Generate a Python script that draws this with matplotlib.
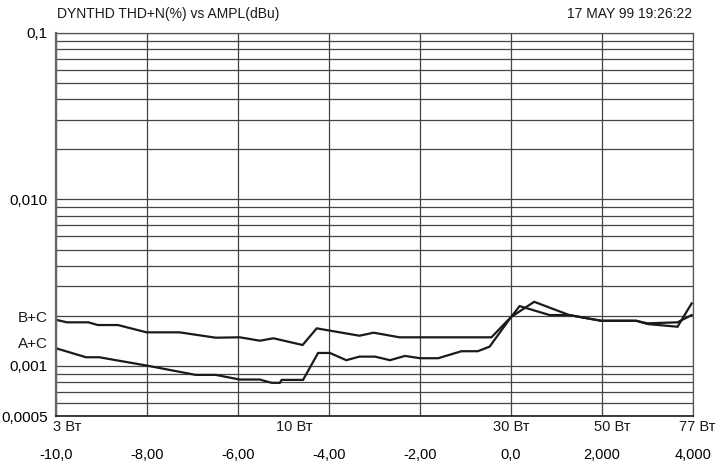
import matplotlib
matplotlib.use("Agg")
import matplotlib.pyplot as plt
import numpy as np

# x in dBu, y in THD+N (%)
bc_x = [-10.0, -9.76, -9.29, -9.08, -8.64, -8.01, -7.29, -6.49, -5.96, -5.52,
        -5.22, -4.58, -4.27, -3.97, -3.33, -3.02, -2.45, -0.43, 0.0, 0.51,
        1.28, 1.98, 2.75, 3.00, 3.66, 3.97]
bc_y = [1.893e-3, 1.827e-3, 1.827e-3, 1.760e-3, 1.760e-3, 1.591e-3, 1.591e-3,
        1.477e-3, 1.485e-3, 1.417e-3, 1.465e-3, 1.335e-3, 1.681e-3, 1.627e-3,
        1.518e-3, 1.583e-3, 1.485e-3, 1.485e-3, 1.965e-3, 2.427e-3, 2.020e-3,
        1.867e-3, 1.867e-3, 1.784e-3, 1.719e-3, 2.373e-3]

ac_x = [-10.0, -9.34, -9.05, -8.01, -6.93, -6.49, -5.96, -5.52, -5.26, -5.08,
        -5.04, -4.57, -4.24, -3.98, -3.62, -3.33, -2.99, -2.66, -2.33, -2.00,
        -1.60, -1.09, -0.73, -0.47, 0.0, 0.19, 0.85, 1.28, 1.98, 2.75, 3.00,
        3.66, 3.97]
ac_y = [1.276e-3, 1.127e-3, 1.127e-3, 1.005e-3, 8.83e-4, 8.83e-4, 8.28e-4,
        8.28e-4, 7.91e-4, 7.91e-4, 8.24e-4, 8.24e-4, 1.196e-3, 1.196e-3,
        1.082e-3, 1.137e-3, 1.137e-3, 1.082e-3, 1.148e-3, 1.112e-3, 1.112e-3,
        1.225e-3, 1.225e-3, 1.305e-3, 1.965e-3, 2.287e-3, 2.020e-3, 2.020e-3,
        1.867e-3, 1.867e-3, 1.802e-3, 1.827e-3, 2.020e-3]

x_ticks = [-10, -8, -6, -4, -2, 0, 2, 4]
x_tick_labels = ["-10,0", "-8,00", "-6,00", "-4,00", "-2,00", "0,0", "2,000", "4,000"]
y_ticks = [0.1, 0.01, 0.001, 0.0005]
y_tick_labels = ["0,1", "0,010", "0,001", "0,0005"]

# output power marks, 30 W = 0 dBu
watts = [3, 10, 30, 50, 77]
watt_labels = ["3 Вт", "10 Вт", "30 Вт", "50 Вт", "77 Вт"]

title = "DYNTHD THD+N(%) vs AMPL(dBu)"
stamp = "17 MAY 99 19:26:22"

FONT = ["Liberation Sans", "DejaVu Sans"]
INK = "#1a1a1a"

fig = plt.figure(figsize=(7.19, 4.63), dpi=100)
ax = fig.add_axes([56 / 719, 47 / 463, 637 / 719, 383 / 463])

ax.set_yscale("log")
ax.set_xlim(-10, 4)
ax.set_ylim(0.0005, 0.1)

ax.plot(bc_x, bc_y, color=INK, lw=1.6, solid_joinstyle="miter")
ax.plot(ac_x, ac_y, color=INK, lw=1.6, solid_joinstyle="miter")

ax.set_xticks(x_ticks)
ax.set_xticklabels(x_tick_labels, family=FONT, fontsize=10.5)
ax.set_yticks(y_ticks)
ax.set_yticklabels(y_tick_labels, family=FONT, fontsize=11)
ax.yaxis.set_minor_formatter(matplotlib.ticker.NullFormatter())
ax.tick_params(axis="both", which="both", length=0)
ax.tick_params(axis="x", pad=23)
ax.tick_params(axis="y", pad=6)

ax.grid(True, axis="x", which="major", color="#444444", lw=0.9)
ax.grid(True, axis="y", which="both", color="#444444", lw=0.9)

for side in ["top", "right"]:
    ax.spines[side].set_color("#555555")
    ax.spines[side].set_linewidth(0.9)
ax.spines["left"].set_color("#666666")
ax.spines["left"].set_linewidth(1.6)
ax.spines["bottom"].set_color(INK)
ax.spines["bottom"].set_linewidth(1.2)

for i, (w, lab) in enumerate(zip(watts, watt_labels)):
    xw = 10 * np.log10(w / 30)
    ax.annotate(lab, xy=(xw, 0), xycoords=("data", "axes fraction"),
                xytext=(-2 if i == 0 else 0, -3), textcoords="offset points",
                ha="left" if i == 0 else "center", va="top",
                family=FONT, fontsize=10.5, color=INK, annotation_clip=False)

ax.annotate("B+C", xy=(0, bc_y[0]), xycoords=("axes fraction", "data"),
            xytext=(-6, 1), textcoords="offset points", ha="right", va="center",
            family=FONT, fontsize=11, color=INK, annotation_clip=False)
ax.annotate("A+C", xy=(0, ac_y[0]), xycoords=("axes fraction", "data"),
            xytext=(-6, 3), textcoords="offset points", ha="right", va="center",
            family=FONT, fontsize=11, color=INK, annotation_clip=False)

fig.text(57 / 719, 1 - 14 / 463, title, family=FONT, fontsize=10,
         ha="left", va="center", color=INK)
fig.text(692 / 719, 1 - 14 / 463, stamp, family=FONT, fontsize=10,
         ha="right", va="center", color=INK)

fig.savefig("out.png", dpi=100)
